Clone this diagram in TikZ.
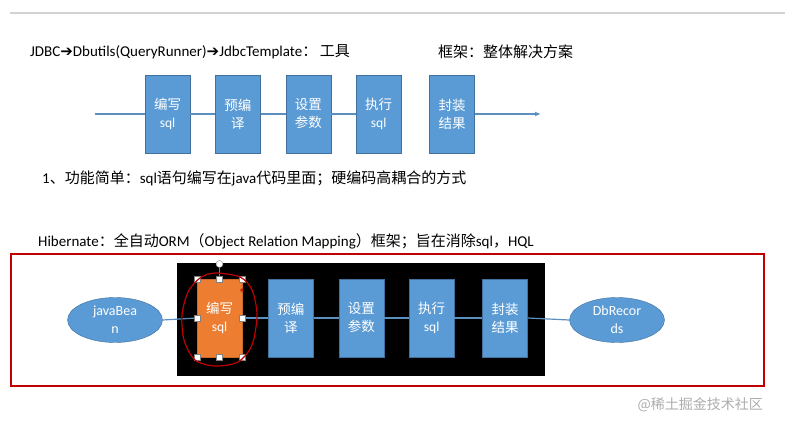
\documentclass[tikz,border=0pt]{standalone}
\usepackage{fontspec}
\setmainfont{Carlito}
\newfontfamily\cjk{Noto Sans CJK SC}
\newfontfamily\symfont{DejaVu Sans}
\newcommand\zh[1]{{\cjk #1}}
\newcommand\rarr{{\symfont\char"2794}}
\usetikzlibrary{positioning,arrows.meta,shapes.geometric}
\definecolor{boxblue}{HTML}{5B9BD5}
\definecolor{boxedge}{HTML}{41719C}
\definecolor{boxorange}{HTML}{ED7D31}
\definecolor{framered}{HTML}{C00000}
\definecolor{flowline}{HTML}{5B8FC0}

\begin{document}
\begin{tikzpicture}[
  x=1pt, y=-1pt,
  txt/.style={anchor=west, inner sep=0pt, font=\fontsize{15}{18}\selectfont},
  procbox/.style={draw=boxedge, fill=boxblue, minimum width=45pt, minimum height=78pt,
    inner sep=0pt, align=center, text=white, font=\fontsize{13.5}{18}\selectfont},
  endnode/.style={ellipse, draw=boxedge, fill=boxblue, minimum width=95pt, minimum height=45pt,
    inner sep=0pt, align=center, text=white, font=\fontsize{14}{18}\selectfont},
  flow/.style={draw=flowline, line width=1.2pt},
  handle/.style={draw=gray, fill=white, minimum size=6pt, inner sep=0pt}
]
\useasboundingbox (0,0) rectangle (785,423);

% ========== Top rule ==========
\coordinate (r1) at (10,13);
\coordinate (r2) at (785,13);
\draw[gray!35, line width=1.5pt] (r1) -- (r2);

% ========== JDBC line ==========
\node[txt] (tools) at (30,52) {JDBC\rarr Dbutils(QueryRunner)\rarr JdbcTemplate\zh{：\,工具}};
\node[txt] (frame) at (438,52) {\zh{框架：整体解决方案}};

\node[procbox] (a1) at (167.5,114) {\zh{编写}\\sql};
\node[procbox, right=25pt of a1] (a2) {\zh{预编}\\\zh{译}};
\node[procbox, right=25pt of a2] (a3) {\zh{设置}\\\zh{参数}};
\node[procbox, right=25pt of a3] (a4) {\zh{执行}\\sql};
\node[procbox, right=28pt of a4] (a5) {\zh{封装}\\\zh{结果}};

\coordinate (lstart) at (95,114);
\coordinate (lend) at (541,114);
\draw[flow] (lstart) -- (a1.west);
\draw[flow] (a1.east) -- (a2.west);
\draw[flow] (a2.east) -- (a3.west);
\draw[flow] (a3.east) -- (a4.west);
\draw[flow, -{Latex[length=6pt,width=5pt]}] (a5.east) -- (lend);

\node[txt] (note1) at (42,178) {1\zh{、功能简单：}sql\zh{语句编写在}java\zh{代码里面；硬编码高耦合的方式}};

% ========== Hibernate ==========
\node[txt] (hib) at (38,241) {Hibernate\zh{：全自动}ORM\zh{（}Object Relation Mapping\zh{）框架；旨在消除}sql\zh{，}HQL};

\node[draw=framered, line width=1.8pt, minimum width=753pt, minimum height=132pt,
  inner sep=0pt, anchor=north west] (orm) at (10,253) {};
\node[fill=black, minimum width=368pt, minimum height=113pt, inner sep=0pt,
  anchor=north west] (stage) at (177,263) {};

\node[endnode] (jb) at (115,320) {javaBea\\n};
\node[procbox, fill=boxorange, draw=boxorange!85!black] (b1) at (219.5,318) {\zh{编写}\\sql};
\node[procbox, right=26pt of b1] (b2) {\zh{预编}\\\zh{译}};
\node[procbox, right=25pt of b2] (b3) {\zh{设置}\\\zh{参数}};
\node[procbox, right=25pt of b3] (b4) {\zh{执行}\\sql};
\node[procbox, right=28pt of b4] (b5) {\zh{封装}\\\zh{结果}};
\node[endnode] (db) at (617,320) {DbRecor\\ds};

\draw[flow] (jb.east) -- (b1.west);
\draw[flow] (b1.east) -- (b2.west);
\draw[flow] (b2.east) -- (b3.west);
\draw[flow] (b3.east) -- (b4.west);
\draw[flow] (b4.east) -- (b5.west);
\draw[flow] (b5.east) -- (db.west);

% selection marks on the orange box
\node[circle, draw=gray, fill=white, minimum size=7pt, inner sep=0pt] (rot) at (219.5,264) {};
\draw[gray] (rot) -- (b1.north);
\foreach \a/\n in {north west/1,north/2,north east/3,east/4,south east/5,south/6,south west/7,west/8}
  \node[handle] (h\n) at (b1.\a) {};
\draw[framered, line width=1.2pt] plot[smooth cycle] coordinates {
  (215,273) (240,277) (252,290) (257,315) (252,345) (238,362)
  (215,366) (195,360) (184,340) (182,315) (188,292) (200,278)};
\node[text=framered, inner sep=0pt, font=\fontsize{14}{14}\selectfont] (mark) at (242,294) {*};

% ========== Watermark ==========
\node[anchor=east, inner sep=0pt, text=gray!65, font=\cjk\fontsize{14}{16}\selectfont] (wm) at (763,405) {@稀土掘金技术社区};

\end{tikzpicture}
\end{document}
